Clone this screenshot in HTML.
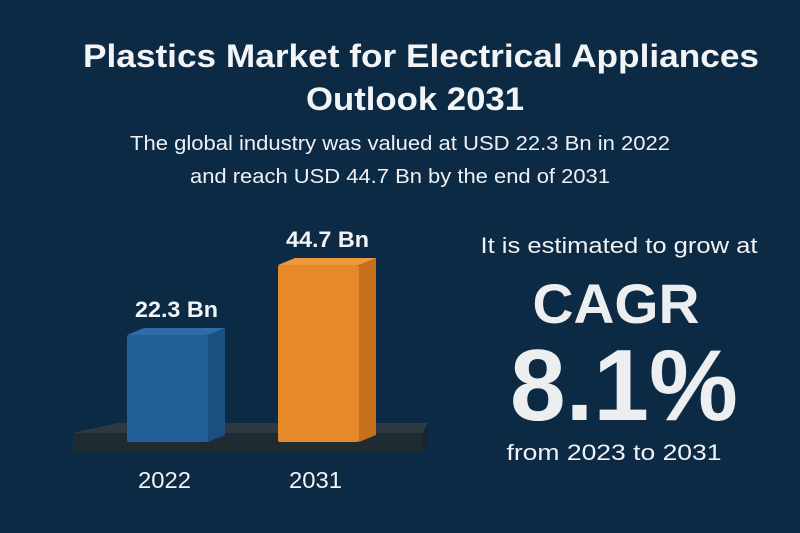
<!DOCTYPE html>
<html><head><meta charset="utf-8"><style>
html,body{margin:0;padding:0;background:#0d2a45;}
svg{display:block;font-family:"Liberation Sans",sans-serif;}
</style></head><body>
<svg id="c" width="800" height="533" viewBox="0 0 800 533">
<rect width="800" height="533" fill="#0d2a45"/>
<text x="421" y="67" text-anchor="middle" font-size="32" font-weight="bold" fill="#f2f4f6" textLength="676" lengthAdjust="spacingAndGlyphs">Plastics Market for Electrical Appliances</text>
<text x="415" y="110" text-anchor="middle" font-size="32" font-weight="bold" fill="#f2f4f6" textLength="218" lengthAdjust="spacingAndGlyphs">Outlook 2031</text>
<text x="400" y="150" text-anchor="middle" font-size="20.5" fill="#eef1f4" textLength="540" lengthAdjust="spacingAndGlyphs">The global industry was valued at USD 22.3 Bn in 2022</text>
<text x="400" y="183" text-anchor="middle" font-size="20.5" fill="#eef1f4" textLength="420" lengthAdjust="spacingAndGlyphs">and reach USD 44.7 Bn by the end of 2031</text>
<polygon points="118,423 428,423 423,433 73,433" fill="#2d3a42"/>
<polygon points="73,433 423,433 423,452 73,452" fill="#1f2a31"/>
<polygon points="423,433 428,423 428,442 423,452" fill="#1a242a"/>
<g id="bars"></g>
<text x="619" y="253" text-anchor="middle" font-size="22" fill="#f0f2f4" textLength="277" lengthAdjust="spacingAndGlyphs">It is estimated to grow at</text>
<text x="616" y="323" text-anchor="middle" font-size="56" font-weight="bold" fill="#eceef0" textLength="167" lengthAdjust="spacingAndGlyphs">CAGR</text>
<text x="624" y="420" text-anchor="middle" font-size="101" font-weight="bold" fill="#eceef0" textLength="228" lengthAdjust="spacingAndGlyphs">8.1%</text>
<text x="614" y="460" text-anchor="middle" font-size="22" fill="#f0f2f4" textLength="215" lengthAdjust="spacingAndGlyphs">from 2023 to 2031</text>
</svg>
<script>
const categories = ["2022", "2031"];
const values = [22.3, 44.7];
const valueLabels = ["22.3 Bn", "44.7 Bn"];
const fronts = ["#23609a", "#e5892a"];
const sides = ["#1b4f82", "#c86f1c"];
const tops = ["#2d6ca8", "#ee9a3c"];
const baseY = 442;
function yScale(v){ return baseY - (37.3 + 3.125 * v); }
function xScale(i){ return 127 + i * 151; }
const g = document.getElementById('bars');
const NS = "http://www.w3.org/2000/svg";
function mk(tag, attrs){ const e=document.createElementNS(NS,tag); for(const k in attrs) e.setAttribute(k,attrs[k]); g.appendChild(e); return e; }
const w = 81, dx = 17, dy = 7;
categories.forEach((c,i)=>{
  const x = xScale(i), y = yScale(values[i]);
  const f = mk('rect',{x:x,y:y,width:w,height:baseY-y,fill:fronts[i],rx:2});
  
  
  const s = mk('polygon',{points:`${x+w},${y} ${x+w+dx},${y-dy} ${x+w+dx},${baseY-dy} ${x+w},${baseY}`,fill:sides[i]});
  
  
  const t = mk('polygon',{points:`${x},${y} ${x+dx},${y-dy} ${x+w+dx},${y-dy} ${x+w},${y}`,fill:tops[i]});
  
  
  const vl = mk('text',{x:x+w/2+9,y:y-18,'text-anchor':'middle','font-size':22,'font-weight':'bold',fill:'#f2f4f6',textLength:83,lengthAdjust:'spacingAndGlyphs'});
  vl.textContent = valueLabels[i];
  
  
  const cl = mk('text',{x:x+w/2-3,y:488,'text-anchor':'middle','font-size':23,fill:'#f2f4f6',textLength:53,lengthAdjust:'spacingAndGlyphs'});
  cl.textContent = c;
  
  
});
</script>
</body></html>
